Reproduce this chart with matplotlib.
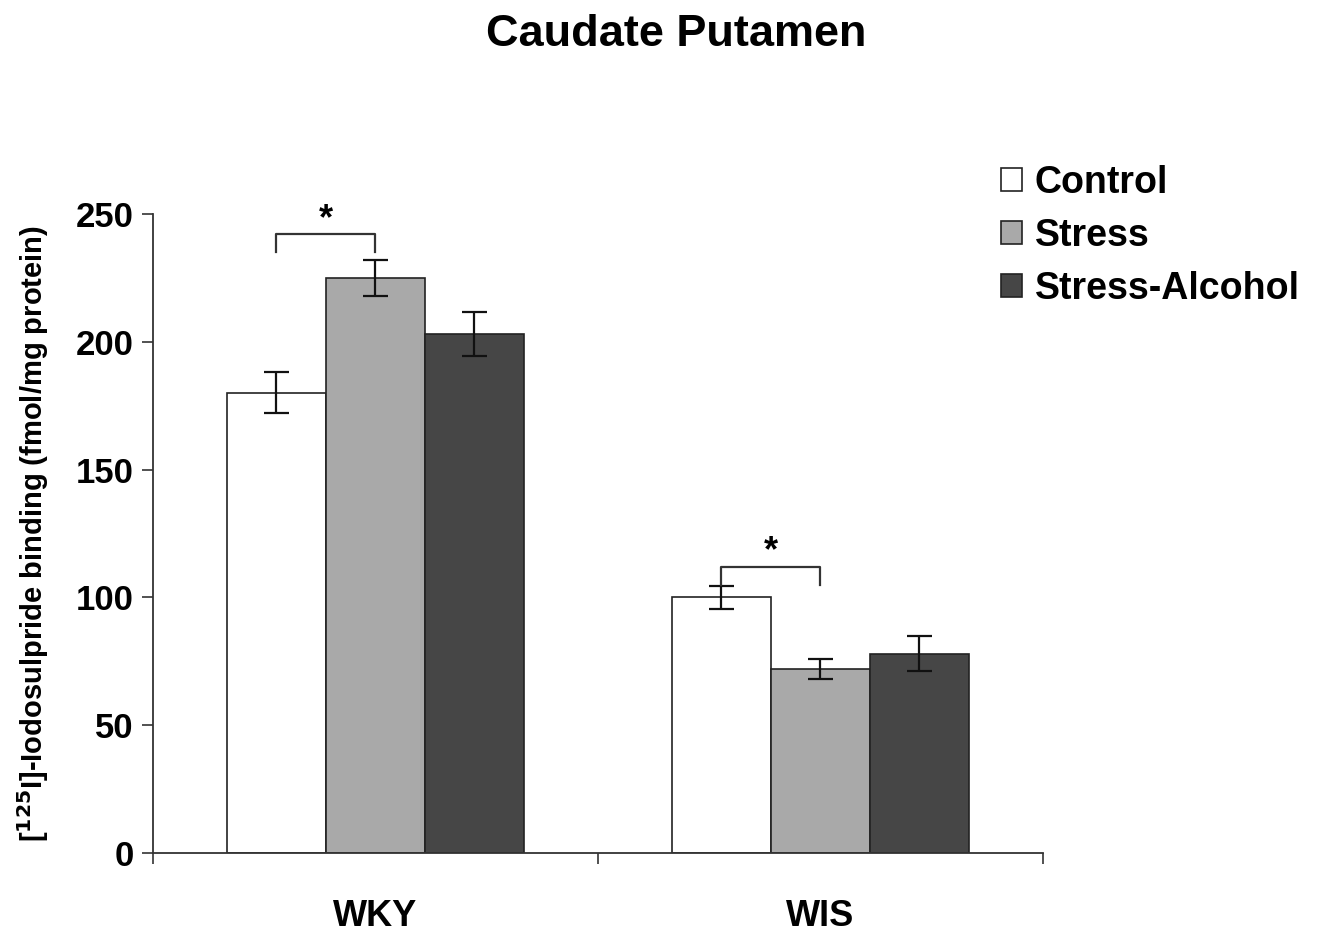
import matplotlib
matplotlib.use("Agg")
import matplotlib.pyplot as plt
import numpy as np
from matplotlib.patches import Patch

plt.rcParams['font.family'] = ['Liberation Sans', 'DejaVu Sans']

groups = ["WKY", "WIS"]
series = ["Control", "Stress", "Stress-Alcohol"]
values = {
    "Control": [180, 100],
    "Stress": [225, 72],
    "Stress-Alcohol": [203, 78],
}
errors = {
    "Control": [8, 4.5],
    "Stress": [7, 4],
    "Stress-Alcohol": [8.5, 7],
}
colors = {"Control": "#ffffff", "Stress": "#a9a9a9", "Stress-Alcohol": "#464646"}
yticks = [0, 50, 100, 150, 200, 250]
# significance brackets: (group index, series a, series b, bracket height)
sig_pairs = [(0, 0, 1, 242), (1, 0, 1, 112)]

fig = plt.figure(figsize=(13.18, 9.36), dpi=100)
ax = fig.add_axes([0.116, 0.0887, 0.675, 0.6827])

x = np.arange(len(groups))
w = 0.2225
offsets = [-w, 0, w]
for s, off in zip(series, offsets):
    ax.bar(x + off, values[s], w, color=colors[s], edgecolor="#222222", linewidth=1.2)
    ax.errorbar(x + off, values[s], yerr=errors[s], fmt="none", ecolor="#111111",
                elinewidth=1.6, capsize=9, capthick=1.6)

for g, a, b, h in sig_pairs:
    xa = x[g] + offsets[a]
    xb = x[g] + offsets[b]
    ax.plot([xa, xa, xb, xb], [h - 7, h, h, h - 7], color="#333333", lw=1.6)
    ax.text((xa + xb) / 2, h - 1, "*", ha="center", va="bottom", fontsize=26, fontweight="bold")

ax.set_xlim(-0.5, 1.5)
ax.set_ylim(0, 250)
ax.set_yticks(yticks)
ax.set_yticklabels([str(t) for t in yticks], fontsize=25, fontweight="bold")
ax.set_xticks([-0.5, 0.5, 1.5], minor=False)
ax.set_xticklabels([])
ax.set_xticks(x, minor=True)
ax.set_xticklabels(groups, minor=True, fontsize=26, fontweight="bold")
ax.tick_params(axis="x", which="minor", length=0, pad=33)
ax.tick_params(axis="x", which="major", length=8, width=1.2, direction="out", color="#333333")
ax.tick_params(axis="y", length=8, width=1.2, direction="out", color="#333333", pad=6)
for sp in ["top", "right"]:
    ax.spines[sp].set_visible(False)
for sp in ["left", "bottom"]:
    ax.spines[sp].set_color("#333333")
    ax.spines[sp].set_linewidth(1.3)

ax.set_ylabel(r"[$^{\mathbf{125}}$I]-Iodosulpride binding (fmol/mg protein)", fontsize=21,
              fontweight="bold", labelpad=18)

fig.text(0.513, 0.963, "Caudate Putamen", ha="center", va="center", fontsize=32.5, fontweight="bold")

handles = [Patch(facecolor=colors[s], edgecolor="#222222", linewidth=1.2) for s in series]
fig.legend(handles, series, loc="upper left", bbox_to_anchor=(0.734, 0.86), frameon=False,
           prop={"size": 27, "weight": "bold"}, handlelength=0.55, handleheight=0.55,
           handletextpad=0.35, labelspacing=0.45)

fig.savefig("out.png", dpi=100)
